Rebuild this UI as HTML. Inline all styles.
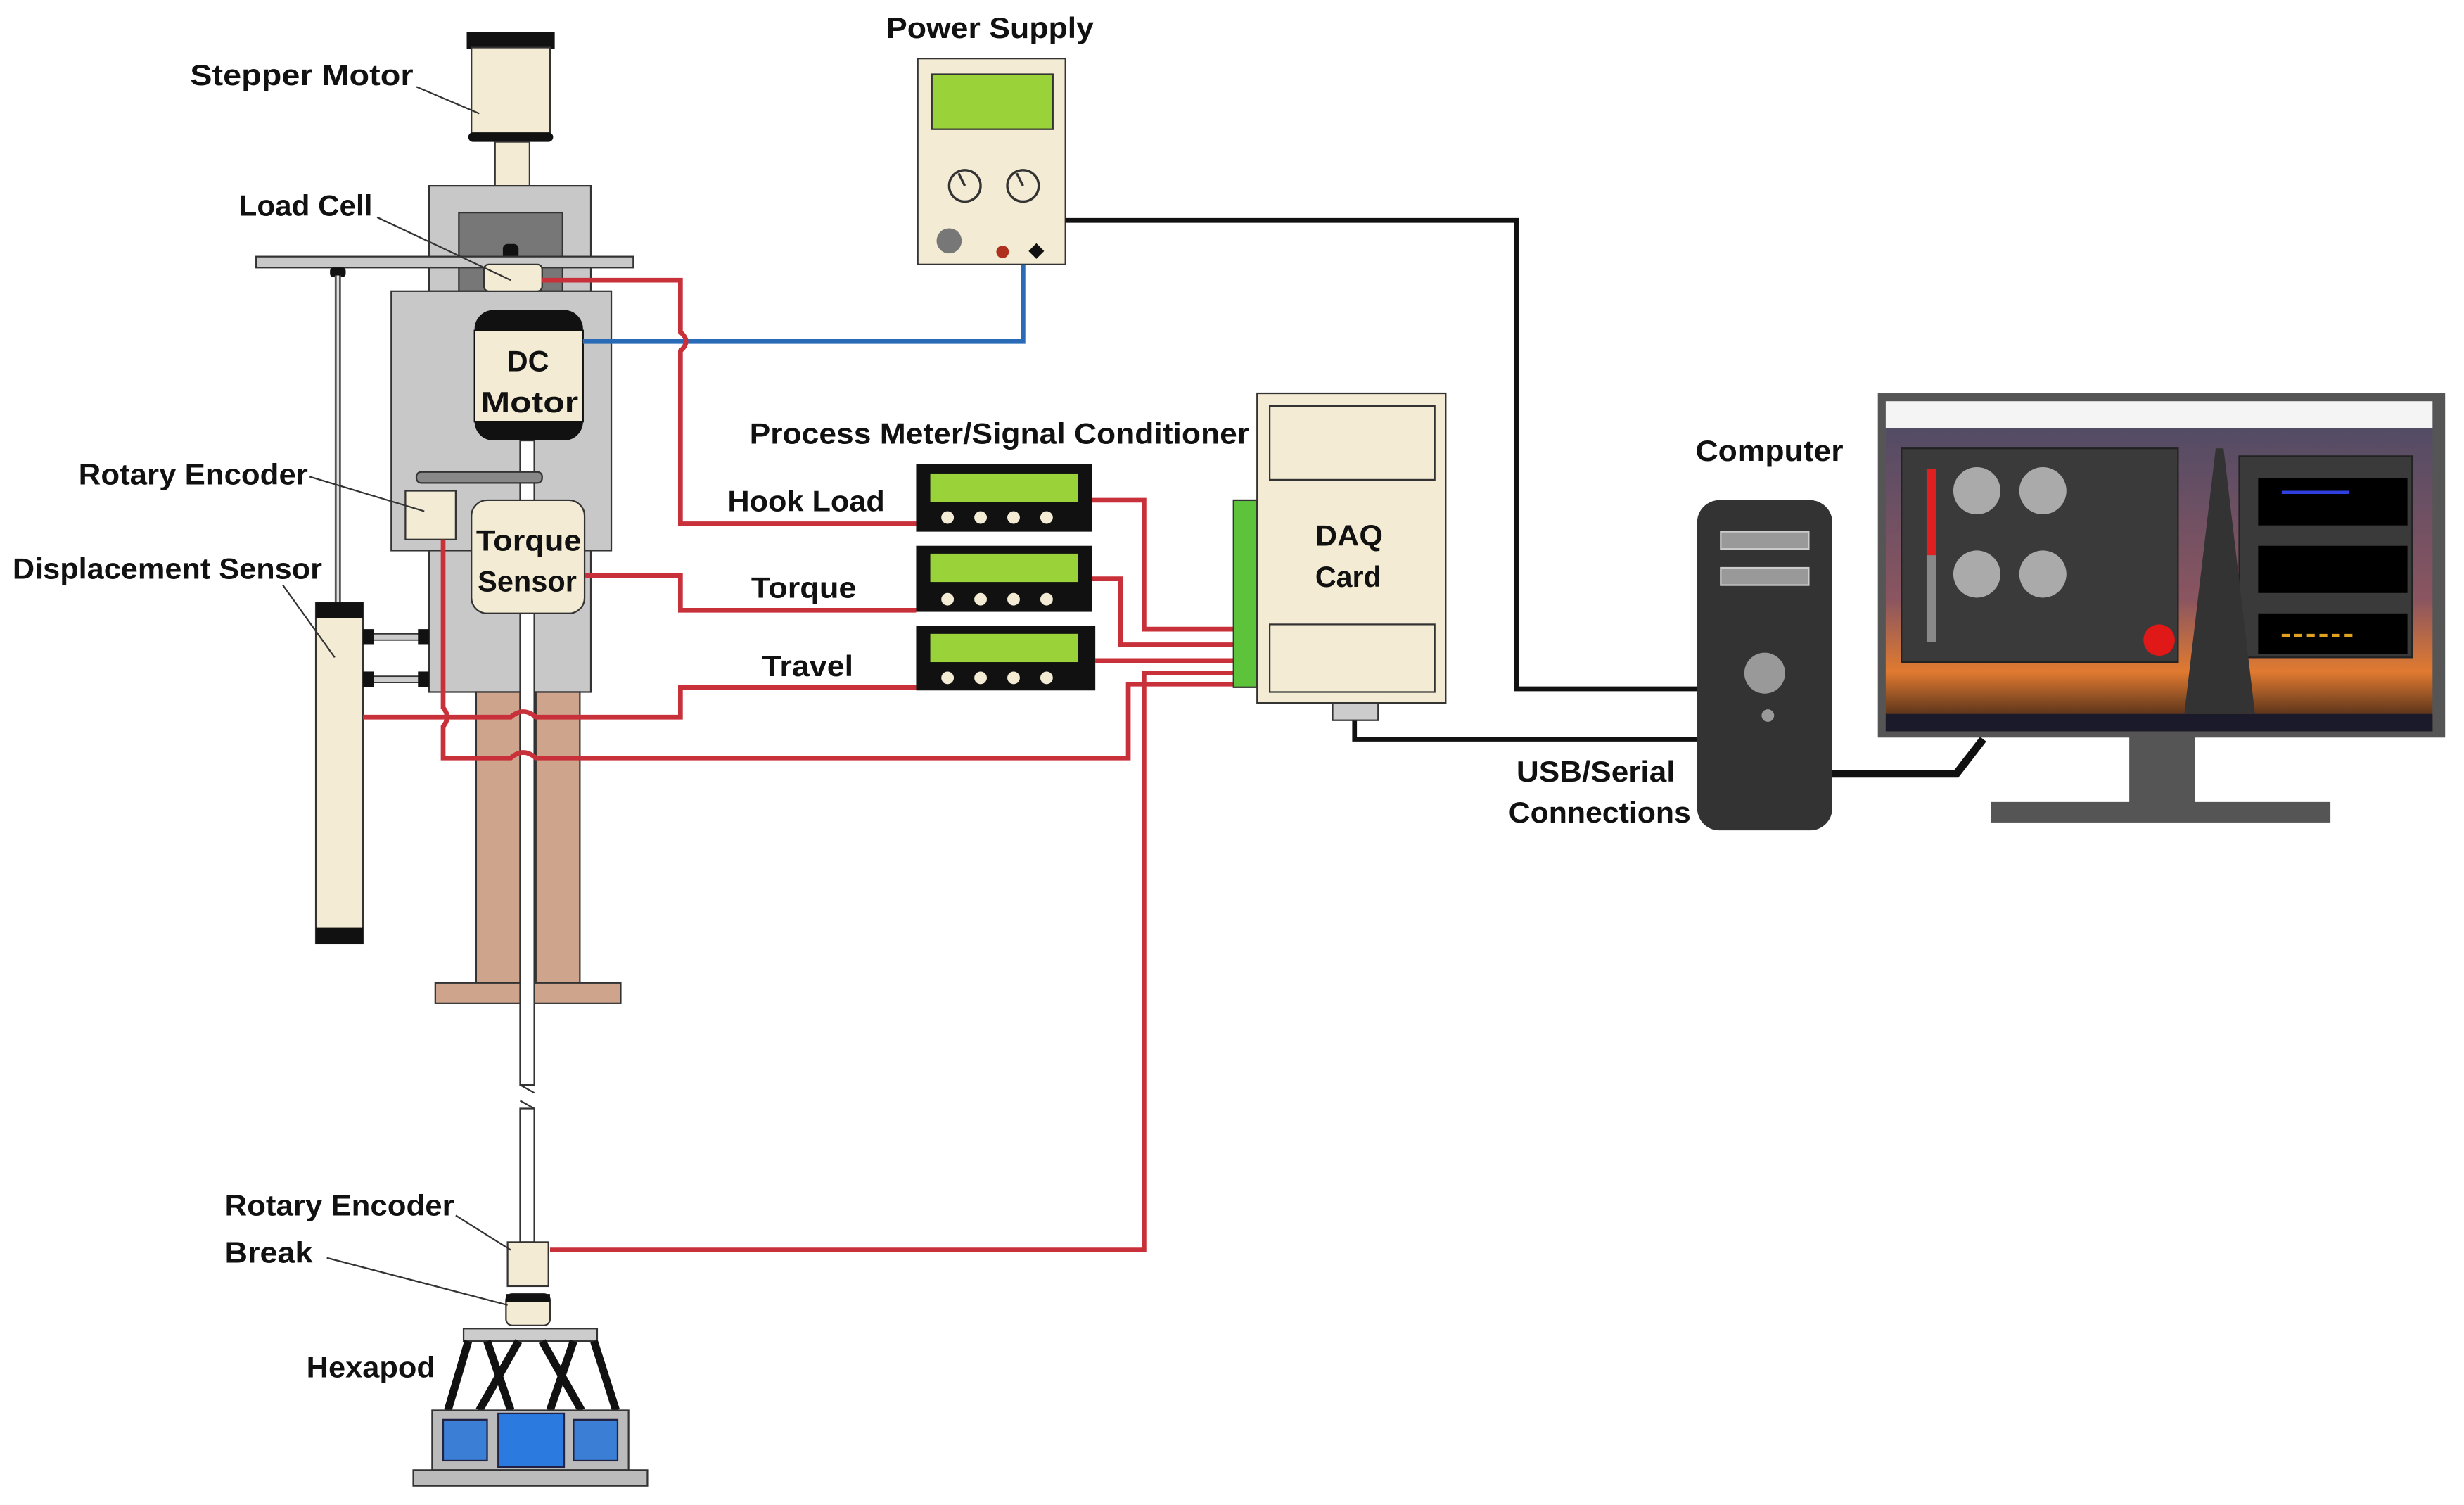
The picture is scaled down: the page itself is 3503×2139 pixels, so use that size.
<!DOCTYPE html>
<html><head><style>html,body{margin:0;padding:0;background:#fff}svg{display:block}</style></head><body>
<svg width="3503" height="2139" viewBox="0 0 1568 957" xmlns="http://www.w3.org/2000/svg" font-family="Liberation Sans, sans-serif" font-weight="bold" font-size="18.5" fill="#111">
<rect width="1568" height="957" fill="#fff"/>
<!-- stepper motor -->
<rect x="297" y="20" width="56" height="11" fill="#111"/>
<rect x="300" y="30" width="50" height="56" fill="#f3ebd3" stroke="#333" stroke-width="1"/>
<rect x="298" y="84" width="54" height="6" rx="3" fill="#111"/>
<rect x="315" y="90" width="22" height="28" fill="#f3ebd3" stroke="#333" stroke-width="1"/>
<!-- upper gray -->
<rect x="273" y="118" width="103" height="67" fill="#c8c8c8" stroke="#333"/>
<rect x="292" y="135" width="66" height="50" fill="#777" stroke="#333"/>
<rect x="320" y="155" width="10" height="10" rx="3" fill="#111"/>
<rect x="163" y="163" width="240" height="7" fill="#c8c8c8" stroke="#333"/>
<rect x="210" y="170" width="10" height="6" rx="2" fill="#111"/>
<line x1="215" y1="175" x2="215" y2="383" stroke="#555" stroke-width="4"/>
<line x1="215" y1="175" x2="215" y2="383" stroke="#ddd" stroke-width="1.5"/>
<!-- main gray box -->
<rect x="249" y="185" width="140" height="165" fill="#c8c8c8" stroke="#333"/>
<rect x="273" y="350" width="103" height="90" fill="#c8c8c8" stroke="#333"/>
<rect x="308" y="168" width="37" height="17" rx="3" fill="#f3ebd3" stroke="#333"/>
<!-- legs -->
<rect x="303" y="440" width="28" height="186" fill="#cfa48d" stroke="#333"/>
<rect x="341" y="440" width="28" height="186" fill="#cfa48d" stroke="#333"/>
<rect x="277" y="625" width="118" height="13" fill="#cfa48d" stroke="#333"/>
<rect x="331" y="280" width="9" height="410" fill="#fff" stroke="#333"/>
<path d="M331 690 L340 695 M331 700 L340 705" stroke="#333"/>
<rect x="331" y="705" width="9" height="85" fill="#fff" stroke="#333"/>
<!-- DC motor -->
<rect x="302" y="197" width="69" height="83" rx="12" fill="#111"/>
<rect x="302" y="210" width="69" height="58" fill="#f3ebd3" stroke="#111"/>
<text x="336" y="236" text-anchor="middle">DC</text>
<text x="306" y="262" textLength="62" lengthAdjust="spacingAndGlyphs">Motor</text>
<!-- belt -->
<rect x="265" y="300" width="80" height="7" rx="3" fill="#888" stroke="#333"/>
<rect x="258" y="312" width="32" height="31" fill="#f3ebd3" stroke="#333"/>
<rect x="300" y="318" width="72" height="72" rx="10" fill="#f3ebd3" stroke="#333"/>
<text x="303" y="350" textLength="67" lengthAdjust="spacingAndGlyphs">Torque</text>
<text x="304" y="376" textLength="63" lengthAdjust="spacingAndGlyphs">Sensor</text>
<!-- displacement sensor -->
<rect x="201" y="383" width="30" height="217" fill="#f3ebd3" stroke="#333"/>
<rect x="201" y="383" width="30" height="10" fill="#111"/>
<rect x="201" y="590" width="30" height="10" fill="#111"/>
<rect x="231" y="403" width="42" height="4" fill="#ccc" stroke="#333" stroke-width=".8"/>
<rect x="231" y="430" width="42" height="4" fill="#ccc" stroke="#333" stroke-width=".8"/>
<rect x="231" y="400" width="7" height="10" fill="#111"/><rect x="266" y="400" width="7" height="10" fill="#111"/>
<rect x="231" y="427" width="7" height="10" fill="#111"/><rect x="266" y="427" width="7" height="10" fill="#111"/>
<!-- power supply -->
<rect x="584" y="37" width="94" height="131" fill="#f3ebd3" stroke="#333"/>
<rect x="593" y="47" width="77" height="35" fill="#9ad23a" stroke="#333"/>
<circle cx="614" cy="118" r="10" fill="#f3ebd3" stroke="#333" stroke-width="1.5"/><line x1="614" y1="118" x2="610" y2="110" stroke="#333" stroke-width="1.5"/>
<circle cx="651" cy="118" r="10" fill="#f3ebd3" stroke="#333" stroke-width="1.5"/><line x1="651" y1="118" x2="647" y2="110" stroke="#333" stroke-width="1.5"/>
<circle cx="604" cy="153" r="8" fill="#777"/>
<circle cx="638" cy="160" r="4" fill="#b03020"/>
<rect x="656" y="156" width="7" height="7" fill="#111" transform="rotate(45 659.5 159.5)"/>
<!-- wires -->
<g fill="none" stroke-width="3">
<path d="M678 140 H965 V438 H1080" stroke="#111"/>
<path d="M862 458 V470 H1080" stroke="#111"/>
<path d="M1165 492 H1245 L1262 470" stroke="#111" stroke-width="5"/>
<path d="M371 217 H651 V168" stroke="#2a6bb8"/>
<g stroke="#c8303a">
<path d="M345 178 H433 V211 Q440 217 433 223 V333 H583"/>
<path d="M372 366 H433 V388 H583"/>
<path d="M231 456 H325 Q333 449 341 456 H433 V437 H583"/>
<path d="M282 343 V450 Q287 456 282 462 V482 H325 Q333 475 341 482 H718 V435 H785"/>
<path d="M695 318 H728 V400 H785"/>
<path d="M695 368 H713 V410 H785"/>
<path d="M697 420 H785"/>
<path d="M350 795 H728 V428 H785"/>
</g></g>
<!-- meters -->
<g>
<rect x="583" y="295" width="112" height="43" fill="#111"/><rect x="592" y="301" width="94" height="18" fill="#9ad23a"/>
<rect x="583" y="347" width="112" height="42" fill="#111"/><rect x="592" y="352" width="94" height="18" fill="#9ad23a"/>
<rect x="583" y="398" width="114" height="41" fill="#111"/><rect x="592" y="403" width="94" height="18" fill="#9ad23a"/>
<g fill="#f3ebd3">
<circle cx="603" cy="329" r="4"/><circle cx="624" cy="329" r="4"/><circle cx="645" cy="329" r="4"/><circle cx="666" cy="329" r="4"/>
<circle cx="603" cy="381" r="4"/><circle cx="624" cy="381" r="4"/><circle cx="645" cy="381" r="4"/><circle cx="666" cy="381" r="4"/>
<circle cx="603" cy="431" r="4"/><circle cx="624" cy="431" r="4"/><circle cx="645" cy="431" r="4"/><circle cx="666" cy="431" r="4"/>
</g></g>
<!-- DAQ -->
<rect x="785" y="318" width="15" height="119" fill="#5cc33a" stroke="#333"/>
<rect x="800" y="250" width="120" height="197" fill="#f3ebd3" stroke="#333"/>
<rect x="808" y="258" width="105" height="47" fill="#f3ebd3" stroke="#333"/>
<rect x="808" y="397" width="105" height="43" fill="#f3ebd3" stroke="#333"/>
<rect x="848" y="447" width="29" height="11" fill="#ccc" stroke="#333"/>
<text x="837" y="347" textLength="43" lengthAdjust="spacingAndGlyphs">DAQ</text>
<text x="837" y="373" textLength="42" lengthAdjust="spacingAndGlyphs">Card</text>
<!-- computer -->
<rect x="1080" y="318" width="86" height="210" rx="14" fill="#333"/>
<rect x="1095" y="338" width="56" height="11" fill="#999" stroke="#ccc"/>
<rect x="1095" y="361" width="56" height="11" fill="#999" stroke="#ccc"/>
<circle cx="1123" cy="428" r="13" fill="#999"/>
<circle cx="1125" cy="455" r="4" fill="#999"/>
<!-- monitor -->
<rect x="1355" y="468" width="42" height="45" fill="#555"/>
<rect x="1267" y="510" width="216" height="13" fill="#555"/>
<rect x="1195" y="250" width="361" height="219" fill="#555"/>
<defs><linearGradient id="sky" x1="0" y1="0" x2="0" y2="1"><stop offset="0" stop-color="#4a4a66"/><stop offset=".6" stop-color="#8a5560"/><stop offset=".82" stop-color="#e07a30"/><stop offset="1" stop-color="#2a1a14"/></linearGradient></defs>
<rect x="1200" y="255" width="348" height="210" fill="url(#sky)"/>
<rect x="1200" y="255" width="348" height="17" fill="#f4f4f4"/>
<rect x="1200" y="454" width="348" height="11" fill="#1a1a2a"/>
<rect x="1210" y="285" width="176" height="136" fill="#3a3a3a" stroke="#222"/>
<rect x="1226" y="298" width="6" height="110" fill="#888"/><rect x="1226" y="298" width="6" height="55" fill="#e02020"/>
<circle cx="1258" cy="312" r="15" fill="#aaa"/><circle cx="1300" cy="312" r="15" fill="#aaa"/>
<circle cx="1258" cy="365" r="15" fill="#aaa"/><circle cx="1300" cy="365" r="15" fill="#aaa"/>
<circle cx="1374" cy="407" r="10" fill="#e01818"/>
<rect x="1425" y="290" width="110" height="128" fill="#3a3a3a" stroke="#222"/>
<rect x="1437" y="304" width="95" height="30" fill="#000"/><rect x="1437" y="347" width="95" height="30" fill="#000"/><rect x="1437" y="390" width="95" height="26" fill="#000"/>
<line x1="1452" y1="313" x2="1495" y2="313" stroke="#3040e0" stroke-width="2"/>
<line x1="1452" y1="404" x2="1500" y2="404" stroke="#e0a020" stroke-width="2" stroke-dasharray="5 3"/>
<path d="M1410 285 L1415 285 L1435 454 L1390 454 Z" fill="#333"/>
<!-- hexapod -->
<rect x="323" y="790" width="26" height="28" fill="#f3ebd3" stroke="#333"/>
<rect x="322" y="823" width="28" height="20" rx="4" fill="#f3ebd3" stroke="#333"/>
<rect x="322" y="823" width="28" height="5" fill="#111"/>
<rect x="295" y="845" width="85" height="8" fill="#ccc" stroke="#333"/>
<g stroke="#111" stroke-width="5">
<path d="M298 853 L285 897 M310 853 L325 897 M330 853 L305 897 M345 853 L370 897 M365 853 L350 897 M378 853 L392 897"/>
</g>
<rect x="275" y="897" width="125" height="38" fill="#bbb" stroke="#333"/>
<rect x="282" y="903" width="28" height="26" fill="#3a7fd5" stroke="#224"/>
<rect x="317" y="899" width="42" height="34" fill="#2a7ae0" stroke="#224"/>
<rect x="365" y="903" width="28" height="26" fill="#3a7fd5" stroke="#224"/>
<rect x="263" y="935" width="149" height="10" fill="#bbb" stroke="#333"/>
<!-- label leaders -->
<g stroke="#333" stroke-width="1" fill="none">
<path d="M265 55 L305 72"/><path d="M240 138 L325 178"/><path d="M197 303 L270 325"/>
<path d="M180 372 L213 418"/><path d="M290 773 L325 795"/><path d="M208 800 L323 830"/>
</g>
<!-- labels -->
<g lengthAdjust="spacingAndGlyphs">
<text x="121" y="54" textLength="142" lengthAdjust="spacingAndGlyphs">Stepper Motor</text>
<text x="152" y="137" textLength="85" lengthAdjust="spacingAndGlyphs">Load Cell</text>
<text x="50" y="308" textLength="146" lengthAdjust="spacingAndGlyphs">Rotary Encoder</text>
<text x="8" y="368" textLength="197" lengthAdjust="spacingAndGlyphs">Displacement Sensor</text>
<text x="564" y="24" textLength="132" lengthAdjust="spacingAndGlyphs">Power Supply</text>
<text x="477" y="282" textLength="318" lengthAdjust="spacingAndGlyphs">Process Meter/Signal Conditioner</text>
<text x="463" y="325" textLength="100" lengthAdjust="spacingAndGlyphs">Hook Load</text>
<text x="478" y="380" textLength="67" lengthAdjust="spacingAndGlyphs">Torque</text>
<text x="485" y="430" textLength="58" lengthAdjust="spacingAndGlyphs">Travel</text>
<text x="1079" y="293" textLength="94" lengthAdjust="spacingAndGlyphs">Computer</text>
<text x="965" y="497" textLength="101" lengthAdjust="spacingAndGlyphs">USB/Serial</text>
<text x="960" y="523" textLength="116" lengthAdjust="spacingAndGlyphs">Connections</text>
<text x="143" y="773" textLength="146" lengthAdjust="spacingAndGlyphs">Rotary Encoder</text>
<text x="143" y="803" textLength="56" lengthAdjust="spacingAndGlyphs">Break</text>
<text x="195" y="876" textLength="82" lengthAdjust="spacingAndGlyphs">Hexapod</text>
</g>
</svg>
</body></html>
